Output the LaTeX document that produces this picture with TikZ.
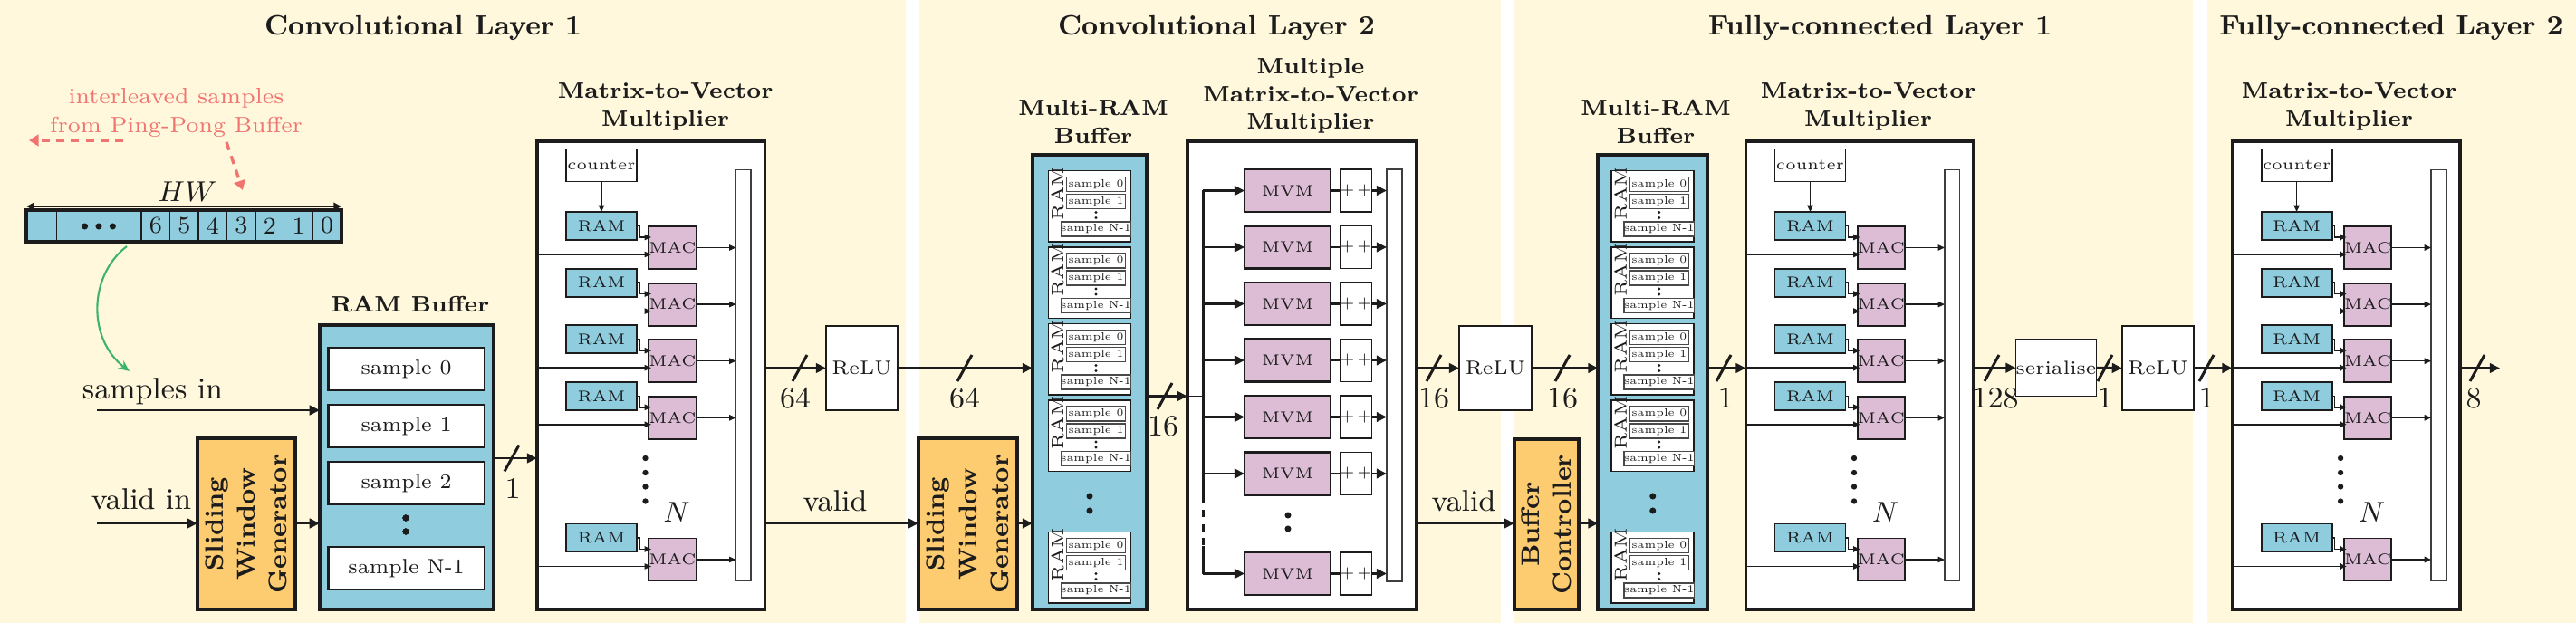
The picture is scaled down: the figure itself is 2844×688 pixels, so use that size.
\documentclass[tikz,border=0pt]{standalone}
\usepackage{fontspec}
\usetikzlibrary{arrows.meta,calc}
\definecolor{bgy}{HTML}{FFF8DC}
\definecolor{ramblue}{HTML}{8ECCDE}
\definecolor{swgor}{HTML}{FECC70}
\definecolor{macpink}{HTML}{DDBDD6}
\definecolor{redtxt}{HTML}{F07470}
\definecolor{grn}{HTML}{3DB36B}
\definecolor{ink}{HTML}{1C1C1C}
\newlength\pxu \setlength\pxu{0.01cm}
\newcommand\fTitle{\fontsize{8.7}{10.4}\selectfont\bfseries}
\newcommand\fSub{\fontsize{7}{8.8}\selectfont\bfseries}
\newcommand\fBig{\fontsize{9.4}{11}\selectfont}
\newcommand\fN{\fontsize{9}{10}\selectfont}
\newcommand\fRot{\fontsize{8}{10}\selectfont\bfseries}
\newcommand\fSmall{\fontsize{4.8}{5.8}\selectfont}
\newcommand\fSamp{\fontsize{6.5}{7.8}\selectfont}
\newcommand\fTiny{\fontsize{3.3}{4}\selectfont}
\newcommand\fRamR{\fontsize{5.4}{6.5}\selectfont}
\newcommand\fRelu{\fontsize{6.1}{7.3}\selectfont}
\newcommand\fSer{\fontsize{6}{7.2}\selectfont}
\newcommand\fRed{\fontsize{7}{9.1}\selectfont}
\newcommand\fDig{\fontsize{7.5}{9}\selectfont}
\newcommand\fHW{\fontsize{9}{10}\selectfont}
\newcommand\fPP{\fontsize{4.5}{5}\selectfont}
\tikzset{
  every node/.style={inner sep=0pt, outer sep=0pt, text=ink},
  thk/.style={line width=0.85pt, draw=ink},
  thkarr/.style={thk, -{Triangle[length=3.2pt,width=3pt]}},
  thn/.style={line width=0.4pt, draw=ink},
  thnarr/.style={thn, -{Triangle[length=2.1pt,width=1.8pt]}},
  slashsty/.style={line width=0.85pt, draw=ink},
  ramsty/.style={draw=ink, line width=0.55pt, fill=ramblue, font=\fSmall},
  macsty/.style={draw=ink, line width=0.55pt, fill=macpink, font=\fSmall},
  mvmsty/.style={draw=ink, line width=1pt, fill=white},
  bussty/.style={draw=ink!85, line width=0.5pt, fill=white},
  mrbox/.style={draw=ink, line width=1.2pt, fill=ramblue},
  grpsty/.style={draw=ink, line width=0.55pt, fill=white},
  smp/.style={draw=ink!80, line width=0.35pt, fill=white, font=\fTiny},
  relusty/.style={draw=ink, line width=0.5pt, fill=white, font=\fRelu},
  swgsty/.style={draw=ink, line width=1.05pt, fill=swgor},
  sampbig/.style={draw=ink, line width=0.6pt, fill=white, font=\fSamp},
  mvmpink/.style={draw=ink, line width=0.6pt, fill=macpink, font=\fSmall},
  ppsty/.style={draw=ink, line width=0.5pt, fill=white, font=\fPP},
  cellsty/.style={draw=ink, line width=0.4pt, fill=ramblue},
  redarr/.style={draw=redtxt, line width=0.95pt, dash pattern=on 2.6pt off 2pt, -{Triangle[length=3pt,width=3.6pt]}},
}
\newcommand\mybox[7]{\node[#1, minimum width={(#5-#3)*\pxu}, minimum height={(#6-#4)*\pxu}] (#2) at ({(#3+#5)/2},{(#4+#6)/2}) {#7};}
\newcommand\bw[5]{\draw[slashsty] ({#1-8},{#2+14.5}) -- ({#1+8},{#2-14.5}); \node[font=\fBig, anchor=base] (#5) at (#3,{#2+44}) {#4};}
\newcommand\mvmblock[3]{%
  \node[mvmsty, minimum width=251.5\pxu, minimum height=517\pxu] (#1box) at ({#2+125.75},414.5) {};
  \node[font=\fSub, align=center, anchor=north] (#1lab) at (#3,92) {Matrix-to-Vector\\Multiplier};
  \node[ramsty, fill=white, minimum width=78\pxu, minimum height=36\pxu] (#1cnt) at ({#2+71},182.5) {counter};
  \node[bussty, minimum width=16.5\pxu, minimum height=453.5\pxu] (#1bus) at ({#2+227.75},414.25) {};
  \foreach \kk/\yy in {1/250,2/312.6,3/375.2,4/437.8,5/594.5}{%
    \node[ramsty, minimum width=78\pxu, minimum height=31\pxu] (#1ram\kk) at ({#2+71},{\yy-0.5}) {RAM};
    \node[macsty, minimum width=47\pxu, minimum height=47\pxu] (#1mac\kk) at ({#2+149.5},{\yy+23.5}) {MAC};
    \coordinate (#1mi\kk) at ({#2+126},{\yy+12});
    \coordinate (#1mj\kk) at ({#2+126},{\yy+31});
    \draw[thnarr] (#1ram\kk.east) -- ++(3,0) |- (#1mi\kk);
    \draw[thnarr] (#1box.west |- #1mj\kk) -- (#1mj\kk);
    \draw[thnarr] (#1mac\kk.east) -- (#1bus.west |- #1mac\kk.east);
  }
  \draw[thnarr] (#1cnt) -- (#1ram1);
  \foreach \dd in {506,522,537.5,553.5} \fill[ink] ({#2+119.5},\dd) circle (0.9pt);
  \node[font=\fN, anchor=base] (#1N) at ({#2+154},576) {$N$};
}
\newcommand\mrambuf[4]{%
  \pgfmathsetmacro\mcx{(#2+#3)/2}%
  \node[mrbox, minimum width={(#3-#2)*\pxu}, minimum height=502\pxu] (#1box) at (\mcx,422) {};
  \node[font=\fSub, align=center, anchor=north] (#1lab) at (#4,110) {Multi-RAM\\Buffer};
  \foreach \kk/\yy in {1/188.5,2/273,3/357.5,4/442,5/587.5}{%
    \node[grpsty, minimum width=91\pxu, minimum height=78.5\pxu] (#1g\kk) at (\mcx,{\yy+39.25}) {};
    \node[rotate=90, font=\fRamR] (#1r\kk) at ({\mcx-35.5},{\yy+25}) {RAM};
    \node[smp, minimum width=65\pxu, minimum height=16\pxu] (#1sa\kk) at ({\mcx+7},{\yy+15}) {sample 0};
    \node[smp, minimum width=65\pxu, minimum height=16\pxu] (#1sb\kk) at ({\mcx+7},{\yy+34}) {sample 1};
    \node[smp, minimum width=65\pxu, minimum height=16\pxu] (#1sc\kk) at ({\mcx+7},{\yy+64.5}) {sample N-1};
    \fill[ink] ({\mcx+7},{\yy+46}) circle (0.45pt) ({\mcx+7},{\yy+52}) circle (0.45pt);
  }
  \fill[ink] (\mcx,548) circle (1pt) (\mcx,564) circle (1pt);
}
\begin{document}
\begin{tikzpicture}[x=0.01cm, y=-0.01cm]
\useasboundingbox (0,0) rectangle (2844,688);
\fill[white] (0,0) rectangle (2844,688);
\fill[bgy] (0,0) rectangle (1000,688);
\fill[bgy] (1015,0) rectangle (1657,688);
\fill[bgy] (1672,0) rectangle (2421,688);
\fill[bgy] (2437,0) rectangle (2844,688);

% titles
\node[font=\fTitle, anchor=north] (t1) at (467,17.5) {Convolutional Layer 1};
\node[font=\fTitle, anchor=north] (t2) at (1343,17.5) {Convolutional Layer 2};
\node[font=\fTitle, anchor=north] (t3) at (2075.5,17.5) {Fully-connected Layer 1};
\node[font=\fTitle, anchor=north] (t4) at (2640,17.5) {Fully-connected Layer 2};

% ping-pong annotation
\node[font=\fRed, text=redtxt, align=center, anchor=north] (ppb) at (194.6,97) {interleaved samples\\from Ping-Pong Buffer};
\coordinate (ra1) at (136,155); \coordinate (ra2) at (32,155);
\coordinate (rb1) at (250,157); \coordinate (rb2) at (268,210);
\draw[redarr] (ra1) -- (ra2);
\draw[redarr] (rb1) -- (rb2);

% HW array
\node[cellsty, minimum width=33.2\pxu, minimum height=35\pxu] (hc0) at (45.9,249.5) {};
\node[cellsty, minimum width=93.5\pxu, minimum height=35\pxu] (hcd) at (109.25,249.5) {};
\foreach \ii/\dd in {0/6,1/5,2/4,3/3,4/2,5/1,6/0}
  \node[cellsty, minimum width=31.55\pxu, minimum height=35\pxu, font=\fDig] (hd\dd) at ({156+31.55*\ii+15.775},249.5) {\dd};
\node[draw=ink, line width=1.2pt, minimum width=347.5\pxu, minimum height=35\pxu] (hwarr) at (203.05,249.5) {};
\foreach \xx in {93.6,109,124.4} \fill[ink] (\xx,250) circle (1pt);
\coordinate (hwy) at (0,228);
\draw[line width=0.6pt, draw=ink, {Triangle[length=2.4pt,width=2.4pt]}-{Triangle[length=2.4pt,width=2.4pt]}] (hwarr.west |- hwy) -- (hwarr.east |- hwy);
\node[font=\fHW, anchor=base] (hwl) at (207,223) {$HW$};

% green arrow
\coordinate (g1) at (140,272); \coordinate (g2) at (143,410);
\draw[grn, line width=0.6pt, -{Stealth[length=3.5pt,width=3pt]}] (g1) .. controls (97,305) and (97,375) .. (g2);

% inputs
\node[font=\fBig, anchor=base] (lsin) at (168.5,440) {samples in};
\node[font=\fBig, anchor=base] (lvin) at (156,562) {valid in};
\coordinate (sin) at (107,453);
\coordinate (vin) at (107,578);

% conv 1: sliding window + RAM buffer
\mybox{swgsty}{swg1}{218}{484}{326}{673}{}
\node[rotate=90, font=\fRot, align=center] (swg1t) at (swg1) {Sliding\\Window\\Generator};
\mybox{mrbox}{rambuf}{353}{359}{545}{673}{}
\node[font=\fSub, anchor=north] (rambufl) at (453,327) {RAM Buffer};
\foreach \nn/\yy/\lab in {0/384/sample 0,1/447/sample 1,2/510/sample 2,3/604/sample N-1}
  \mybox{sampbig}{rb\nn}{362.5}{\yy}{534.6}{\yy+47}{\lab}
\fill[ink] (448,572) circle (1pt) (448,587) circle (1pt);

\draw[thkarr] (sin) -- (rambuf.west |- sin);
\draw[thkarr] (vin) -- (swg1.west |- vin);
\draw[thkarr] (swg1.east |- vin) -- (rambuf.west |- vin);

% conv 1 MVM
\mvmblock{mA}{593}{734.5}
\coordinate (w506) at (0,506);
\draw[thkarr] (rambuf.east |- w506) -- (mAbox.west |- w506);
\bw{565}{506}{566}{1}{bwa}

\mybox{relusty}{relu1}{912}{360}{991}{453}{ReLU}
\draw[thkarr] (mAbox.east |- relu1.west) -- (relu1.west);
\bw{883}{406.5}{878}{64}{bwb}
\node[font=\fBig, anchor=base] (lva) at (922,564) {valid};

% conv 2
\mybox{swgsty}{swg2}{1014}{484}{1123}{673}{}
\node[rotate=90, font=\fRot, align=center] (swg2t) at (swg2) {Sliding\\Window\\Generator};
\draw[thkarr] (mAbox.east |- vin) -- (swg2.west |- vin);
\mrambuf{qB}{1140}{1266}{1207}
\draw[thkarr] (relu1.east) -- (qBbox.west |- relu1.east);
\bw{1065}{406.5}{1065}{64}{bwc}
\draw[thkarr] (swg2.east |- vin) -- (qBbox.west |- vin);

\mybox{mvmsty}{mmv}{1311}{156}{1564}{673}{}
\node[font=\fSub, align=center, anchor=north] (mmvl) at (1447,64) {Multiple\\Matrix-to-Vector\\Multiplier};
\coordinate (w437) at (0,437.5);
\draw[thkarr] (qBbox.east |- w437) -- (mmv.west |- w437);
\bw{1286}{437.5}{1284}{16}{bwd}
\mybox{bussty}{mmvbus}{1531}{187}{1548}{642}{}
\foreach \kk/\yy in {1/187,2/249.5,3/312,4/374.5,5/437,6/499.5,7/610}{%
  \mybox{mvmpink}{mv\kk}{1374}{\yy}{1469}{\yy+47}{MVM}
  \mybox{ppsty}{pp\kk}{1484}{\yy+7}{1510}{\yy+40}{+\,+}
  \draw[thk] (mv\kk.east) -- (pp\kk.west);
  \draw[thkarr] (pp\kk.east) -- (mmvbus.west |- pp\kk.east);
  \coordinate (tr\kk) at (1328,{\yy+23.5});
  \draw[thkarr] (tr\kk) -- (mv\kk.west);
}
\coordinate (trd1) at (1328,548); \coordinate (trd2) at (1328,603);
\draw[thk] (tr1) -- (trd1);
\draw[thk, dash pattern=on 2.2pt off 2.2pt] (trd1) -- (trd2);
\draw[thk] (trd2) -- (tr7);
\draw[thn] (mmv.west |- w437) -- (tr1 |- w437);
\fill[ink] (1422,569) circle (1pt) (1422,584) circle (1pt);

\mybox{relusty}{relu2}{1611}{360}{1691}{453}{ReLU}
\draw[thkarr] (mmv.east |- relu2.west) -- (relu2.west);
\bw{1583}{406.5}{1583}{16}{bwe}
\node[font=\fBig, anchor=base] (lvb) at (1616,564) {valid};

% FC 1
\mybox{swgsty}{bc}{1672}{485}{1743}{673}{}
\node[rotate=90, font=\fRot, align=center] (bct) at (bc) {Buffer\\Controller};
\draw[thkarr] (mmv.east |- vin) -- (bc.west |- vin);
\mrambuf{qC}{1764.5}{1885}{1828}
\draw[thkarr] (relu2.east) -- (qCbox.west |- relu2.east);
\bw{1725}{406.5}{1725}{16}{bwf}
\draw[thkarr] (bc.east |- vin) -- (qCbox.west |- vin);

\mvmblock{mC}{1927.5}{2062.5}
\draw[thkarr] (qCbox.east |- relu2.east) -- (mCbox.west |- relu2.east);
\bw{1903}{406.5}{1905}{1}{bwg}

\mybox{relusty}{ser}{2231}{375}{2309}{437.5}{\fSer serialise}
\draw[thkarr] (mCbox.east |- ser.west) -- (ser.west);
\bw{2199}{406.5}{2203}{128}{bwh}
\mybox{relusty}{relu3}{2343}{360}{2422}{453}{ReLU}
\draw[thkarr] (ser.east) -- (relu3.west);
\bw{2324}{406.5}{2324}{1}{bwi}

% FC 2
\mvmblock{mD}{2464.6}{2593.5}
\draw[thkarr] (relu3.east) -- (mDbox.west |- relu3.east);
\bw{2436}{406.5}{2436}{1}{bwj}
\coordinate (outp) at (2760,406.5);
\draw[thkarr] (mDbox.east |- outp) -- (outp);
\bw{2735}{406.5}{2731}{8}{bwk}
\end{tikzpicture}
\end{document}
